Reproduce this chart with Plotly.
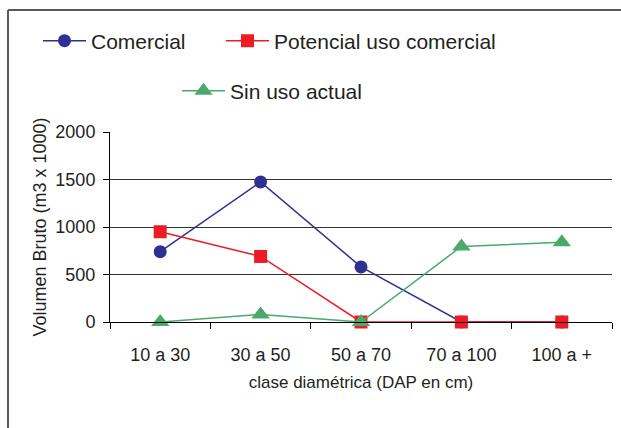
import plotly.graph_objects as go

# Diameter classes (DAP, cm)
clases = ["10 a 30", "30 a 50", "50 a 70", "70 a 100", "100 a +"]

# Gross volume (m3 x 1000) per use category
comercial = [740, 1475, 580, 0, 0]
potencial = [950, 690, 0, 0, 0]
sin_uso = [0, 80, 0, 795, 840]

y_ticks = [0, 500, 1000, 1500, 2000]

W, H = 621, 428
ML, MR, MT, MB = 110, 9, 132, 106
PW, PH = W - ML - MR, H - MT - MB

def px_x(px):
    return (px - ML) / PW

def px_y(py):
    return (H - MB - py) / PH

TXT = "#231F20"
FONT = "Liberation Sans, Arial, sans-serif"

fig = go.Figure()
fig.add_trace(go.Scatter(
    x=clases, y=comercial, name="Comercial", mode="lines+markers",
    line=dict(color="#2E3192", width=1.5),
    marker=dict(symbol="circle", size=13, color="#2E3192"),
    cliponaxis=False, legend="legend2",
))
fig.add_trace(go.Scatter(
    x=clases, y=potencial, name="Potencial uso comercial", mode="lines+markers",
    line=dict(color="#ED1C24", width=1.5),
    marker=dict(symbol="square", size=13, color="#ED1C24"),
    cliponaxis=False, legend="legend3",
))
fig.add_trace(go.Scatter(
    x=clases, y=sin_uso, name="Sin uso actual", mode="lines+markers",
    line=dict(color="#4BA96C", width=1.5),
    marker=dict(symbol="triangle-up", size=16, color="#4BA96C"),
    cliponaxis=False, legend="legend4",
))

legend_common = dict(
    orientation="h", yanchor="middle", xanchor="left",
    font=dict(family=FONT, size=21, color=TXT),
    bgcolor="rgba(0,0,0,0)", borderwidth=0, itemwidth=43,
)

fig.update_layout(
    width=W, height=H,
    margin=dict(l=ML, r=MR, t=MT, b=MB, pad=0),
    paper_bgcolor="white", plot_bgcolor="white",
    font=dict(family=FONT, color=TXT),
    legend=dict(visible=False),
    legend2=dict(x=px_x(38), y=px_y(41), **legend_common),
    legend3=dict(x=px_x(221), y=px_y(41), **legend_common),
    legend4=dict(x=px_x(177), y=px_y(91), **legend_common),
    xaxis=dict(
        type="category", showgrid=False, zeroline=False,
        showline=True, linecolor="#000", linewidth=1,
        ticks="outside", tickson="boundaries", ticklen=6, tickcolor="#000",
        tickfont=dict(family=FONT, size=18, color=TXT),
        ticklabelstandoff=16,
        title=dict(text="clase diamétrica (DAP en cm)",
                   font=dict(family=FONT, size=17, color=TXT), standoff=12),
        range=[-0.5, 4.5],
    ),
    yaxis=dict(
        range=[0, 2000], tickvals=y_ticks,
        showgrid=True, gridcolor="#333", gridwidth=1,
        zeroline=True, zerolinecolor="#000", zerolinewidth=1,
        showline=True, linecolor="#000", linewidth=1,
        ticks="outside", ticklen=6, tickcolor="#000",
        tickfont=dict(family=FONT, size=18, color=TXT),
        ticklabelstandoff=4,
        title=dict(text="Volumen Bruto (m3 x 1000)",
                   font=dict(family=FONT, size=18, color=TXT), standoff=4),
    ),
    shapes=[
        dict(type="line", xref="paper", yref="paper",
             x0=px_x(8), x1=px_x(8), y0=px_y(10), y1=px_y(440),
             line=dict(color="#5A5A5A", width=2)),
        dict(type="line", xref="paper", yref="paper",
             x0=px_x(8), x1=px_x(630), y0=px_y(10), y1=px_y(10),
             line=dict(color="#5A5A5A", width=2)),
    ],
)

fig.write_html("out.html")
